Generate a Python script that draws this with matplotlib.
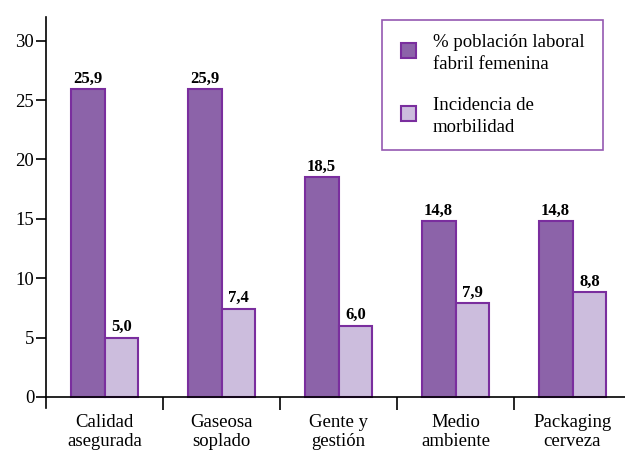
import numpy as np
import matplotlib
matplotlib.use("Agg")
import matplotlib.pyplot as plt
from matplotlib.patches import Rectangle
from matplotlib.legend_handler import HandlerPatch

categorias = ["Calidad\nasegurada", "Gaseosa\nsoplado", "Gente y\ngestión",
              "Medio\nambiente", "Packaging\ncerveza"]
poblacion_femenina = [25.9, 25.9, 18.5, 14.8, 14.8]
morbilidad = [5.0, 7.4, 6.0, 7.9, 8.8]
nombres_series = ["% población laboral\nfabril femenina", "Incidencia de\nmorbilidad"]

plt.rcParams['font.family'] = ['Liberation Serif', 'DejaVu Serif']

fig = plt.figure(figsize=(6.25, 4.5), dpi=100)
# el eje se sale un poco por la derecha, como en el original
ax = fig.add_axes([46 / 625, 42 / 450, 585 / 625, 391 / 450])

oscuro = "#8C63A9"
claro = "#CCBDDD"
borde = "#7A2E9E"

x = np.arange(len(categorias)) + 0.5
w = 0.29
b1 = ax.bar(x - w / 2, poblacion_femenina, w, color=oscuro, edgecolor=borde,
            linewidth=1.5, label=nombres_series[0])
b2 = ax.bar(x + w / 2, morbilidad, w, color=claro, edgecolor=borde,
            linewidth=1.5, label=nombres_series[1])

for barras, vals in ((b1, poblacion_femenina), (b2, morbilidad)):
    ax.bar_label(barras, labels=[f"{v:.1f}".replace(".", ",") for v in vals],
                 padding=2, fontsize=12, fontweight="bold")

ax.set_xlim(0, len(categorias))
ax.set_ylim(-0.93, 32)
ax.set_yticks(range(0, 31, 5))
ax.tick_params(axis="y", direction="out", length=7.5, width=1.2, labelsize=13.5, pad=1)

# marcas en los limites de categoria, textos en el centro
ax.set_xticks(np.arange(1, len(categorias)))
ax.set_xticklabels([])
ax.tick_params(axis="x", which="major", direction="out", length=9, width=1.2)
ax.set_xticks(x, minor=True)
ax.set_xticklabels(categorias, minor=True, linespacing=0.95)
ax.tick_params(axis="x", which="minor", length=0, pad=12, labelsize=13.5)

ax.spines["bottom"].set_position(("data", 0))
ax.spines["top"].set_visible(False)
ax.spines["right"].set_visible(False)
ax.spines["left"].set_linewidth(1.2)
ax.spines["bottom"].set_linewidth(1.2)


# cuadradito pegado a la derecha del hueco del handle (mas margen a la izquierda)
def cuadro(legend, orig_handle, xdescent, ydescent, width, height, fontsize=None):
    return Rectangle((width - height - xdescent, -ydescent + 0.2 * height), height, height)


leg = ax.legend(handles=[b1.patches[0], b2.patches[0]],
                labels=[n.replace("\n", " \n", 1) for n in nombres_series],
                loc="upper left", bbox_to_anchor=(382 / 625, 1 - 20 / 450),
                bbox_transform=fig.transFigure, fontsize=13.5, fancybox=False,
                handlelength=1.07, handleheight=0.85, handletextpad=0.9,
                labelspacing=1.3, borderpad=0.75, borderaxespad=0,
                handler_map={Rectangle: HandlerPatch(patch_func=cuadro)})
for t in leg.get_texts():
    t.set_linespacing(1.35)
leg.get_frame().set_edgecolor(borde)
leg.get_frame().set_linewidth(1.2)

fig.savefig("out.png", dpi=100)
